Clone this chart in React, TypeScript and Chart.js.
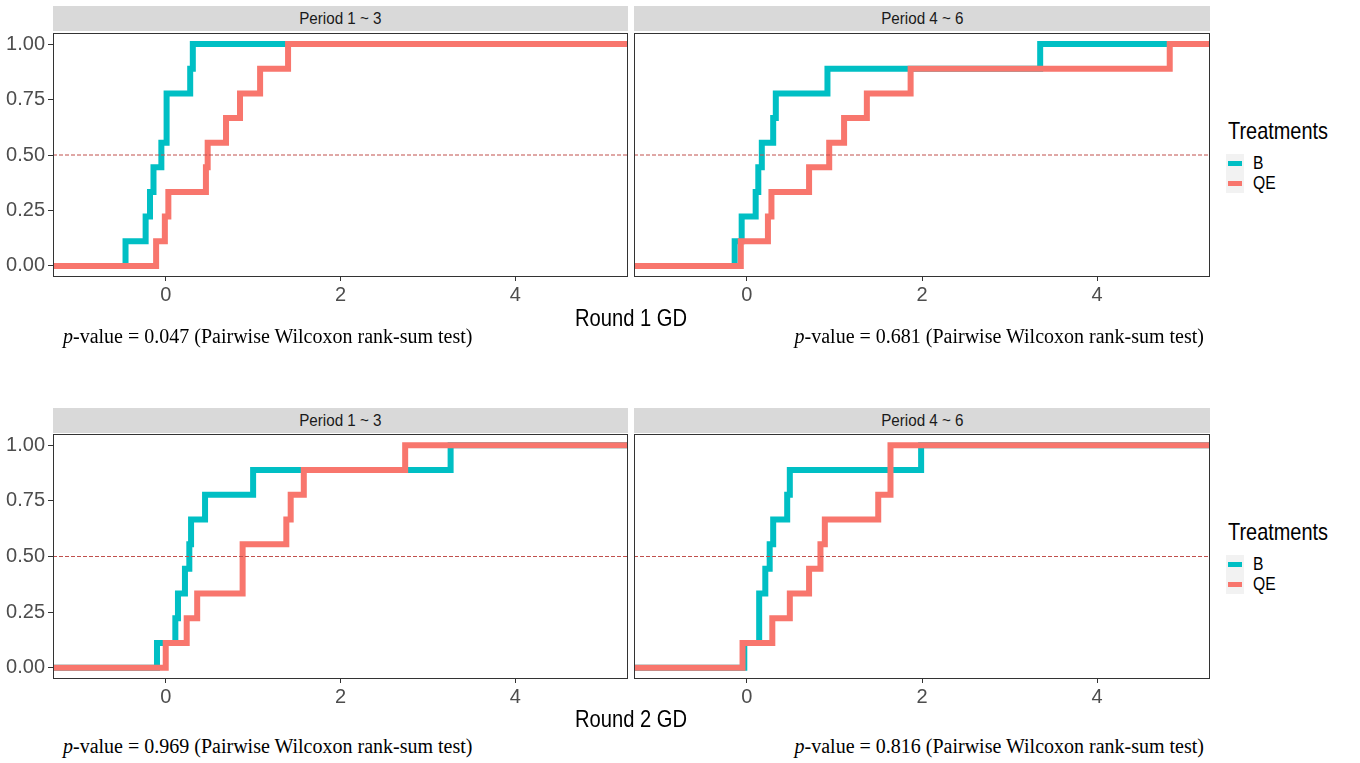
import React, { useEffect, useRef } from "react";
import { Chart, registerables } from "chart.js";
Chart.register(...registerables);

// ---------- data ----------
const xTickValues = [0, 2, 4];
const yTickValues = [0, 0.25, 0.5, 0.75, 1];
const xMin = -1.29;
const xMax = 5.29;
const yMin = -0.05;
const yMax = 1.05;
const refLevel = 0.5;

const seriesNames = ["B", "QE"];
const seriesColors = ["#00BFC4", "#F8766D"];
const facetLabels = ["Period 1 ~ 3", "Period 4 ~ 6"];
const roundTitles = ["Round 1 GD", "Round 2 GD"];
const legendTitle = "Treatments";
const pValuesRound1 = ["0.047", "0.681"];
const pValuesRound2 = ["0.969", "0.816"];
const testName = "(Pairwise Wilcoxon rank-sum test)";

// observed GD values (sorted) read from the ECDF steps
const round1Period13B = [-0.46, -0.23, -0.18, -0.14, -0.05, 0.01, 0.01, 0.28, 0.31];
const round1Period13QE = [-0.11, -0.01, 0.03, 0.46, 0.48, 0.69, 0.85, 1.08, 1.4];
const round1Period46B = [-0.14, -0.06, 0.1, 0.13, 0.17, 0.3, 0.33, 0.92, 3.35];
const round1Period46QE = [-0.07, 0.24, 0.28, 0.71, 0.94, 1.11, 1.37, 1.87, 4.83];
const round2Period13B = [-0.1, 0.11, 0.14, 0.22, 0.27, 0.29, 0.45, 1.0, 3.26];
const round2Period13QE = [0.0, 0.24, 0.36, 0.88, 0.88, 1.38, 1.43, 1.58, 2.74];
const round2Period46B = [-0.03, 0.14, 0.14, 0.21, 0.26, 0.3, 0.46, 0.49, 1.99];
const round2Period46QE = [-0.05, 0.29, 0.49, 0.71, 0.84, 0.89, 1.5, 1.64, 1.64];

// ---------- styling ----------
const SANS = "'Liberation Sans Narrow', 'Arial Narrow', 'Liberation Sans', Arial, sans-serif";
const SERIF = "'Liberation Serif', 'Times New Roman', serif";
const refColor = "#C0504D";

function ecdfPoints(obs: number[]) {
  const n = obs.length;
  const pts = [{ x: xMin, y: 0 }];
  obs.forEach((v, i) => pts.push({ x: v, y: (i + 1) / n }));
  pts.push({ x: xMax, y: 1 });
  return pts;
}

const borderPlugin = {
  id: "panelBorder",
  afterDatasetsDraw(chart: any) {
    const { ctx, chartArea } = chart;
    ctx.save();
    ctx.strokeStyle = "#333333";
    ctx.lineWidth = 1;
    ctx.strokeRect(
      Math.round(chartArea.left) + 0.5,
      Math.round(chartArea.top) + 0.5,
      Math.round(chartArea.right - chartArea.left) - 1,
      Math.round(chartArea.bottom - chartArea.top) - 1
    );
    ctx.restore();
  },
};

type PanelProps = {
  left: number;
  top: number;
  width: number;
  height: number;
  padding: { left: number; right: number; top: number; bottom: number };
  showY: boolean;
  b: number[];
  qe: number[];
};

function Panel({ left, top, width, height, padding, showY, b, qe }: PanelProps) {
  const ref = useRef<HTMLCanvasElement>(null);
  useEffect(() => {
    const chart = new Chart(ref.current as HTMLCanvasElement, {
      type: "line",
      data: {
        datasets: [
          {
            label: "ref",
            data: [
              { x: xMin, y: refLevel },
              { x: xMax, y: refLevel },
            ],
            borderColor: refColor,
            borderWidth: 1,
            borderDash: [4, 2],
            pointRadius: 0,
            order: 0,
          },
          {
            label: seriesNames[1],
            data: ecdfPoints(qe),
            stepped: true,
            borderColor: seriesColors[1],
            borderWidth: 6,
            pointRadius: 0,
            order: 1,
          },
          {
            label: seriesNames[0],
            data: ecdfPoints(b),
            stepped: true,
            borderColor: seriesColors[0],
            borderWidth: 6,
            pointRadius: 0,
            order: 2,
          },
        ],
      } as any,
      options: {
        responsive: false,
        animation: false,
        layout: { padding },
        plugins: {
          legend: { display: false },
          tooltip: { enabled: false },
          title: { display: false },
        },
        scales: {
          x: {
            type: "linear",
            min: xMin,
            max: xMax,
            afterBuildTicks: (s: any) => {
              s.ticks = xTickValues.map((v) => ({ value: v }));
            },
            afterFit: (s: any) => {
              s.height = 40;
            },
            grid: {
              drawOnChartArea: false,
              drawTicks: true,
              tickLength: 4,
              tickColor: "#333333",
              tickWidth: 1,
            },
            border: { display: false },
            ticks: {
              padding: 2,
              color: "#4D4D4D",
              font: { size: 20, family: SANS },
              maxRotation: 0,
              autoSkip: false,
              callback: (v: any) => String(v),
            },
          },
          y: {
            type: "linear",
            display: showY,
            min: yMin,
            max: yMax,
            afterBuildTicks: (s: any) => {
              s.ticks = yTickValues.map((v) => ({ value: v }));
            },
            afterFit: (s: any) => {
              s.width = showY ? 53 : 0;
            },
            grid: {
              drawOnChartArea: false,
              drawTicks: true,
              tickLength: 5,
              tickColor: "#333333",
              tickWidth: 1,
            },
            border: { display: false },
            ticks: {
              padding: 3,
              color: "#4D4D4D",
              font: { size: 20, family: SANS },
              autoSkip: false,
              callback: (v: any) => Number(v).toFixed(2),
            },
          },
        },
      } as any,
      plugins: [borderPlugin],
    });
    return () => chart.destroy();
  }, []);
  return (
    <canvas
      ref={ref}
      width={width}
      height={height}
      style={{ position: "absolute", left, top, width, height }}
    />
  );
}

function Strip({ left, top, width, text }: { left: number; top: number; width: number; text: string }) {
  return (
    <div
      style={{
        position: "absolute",
        left,
        top,
        width,
        height: 25,
        background: "#D9D9D9",
        color: "#1A1A1A",
        fontFamily: SANS,
        fontSize: 16,
        lineHeight: "25px",
        textAlign: "center",
        whiteSpace: "nowrap",
      }}
    >
      <span style={{ display: "inline-block", transform: "scaleX(0.95)" }}>{text}</span>
    </div>
  );
}

function Legend({ top }: { top: number }) {
  // top = y of title centre
  const keyCenters = [top + 32, top + 52];
  return (
    <>
      <div
        style={{
          position: "absolute",
          left: 1228,
          top: top - 12,
          height: 24,
          lineHeight: "24px",
          fontFamily: SANS,
          fontSize: 24,
          color: "#000",
          whiteSpace: "nowrap",
          transform: "scaleX(0.83)",
          transformOrigin: "left center",
        }}
      >
        {legendTitle}
      </div>
      <div
        style={{
          position: "absolute",
          left: 1226,
          top: keyCenters[0] - 9.5,
          width: 18,
          height: 39,
          background: "#F2F2F2",
        }}
      />
      {seriesNames.map((name, i) => (
        <React.Fragment key={name}>
          <div
            style={{
              position: "absolute",
              left: 1228,
              top: keyCenters[i] - 2.5,
              width: 14,
              height: 5,
              background: seriesColors[i],
            }}
          />
          <div
            style={{
              position: "absolute",
              left: 1253,
              top: keyCenters[i] - 9,
              height: 18,
              lineHeight: "18px",
              fontFamily: SANS,
              fontSize: 18,
              color: "#000",
              whiteSpace: "nowrap",
              transform: "scaleX(0.87)",
              transformOrigin: "left center",
            }}
          >
            {name}
          </div>
        </React.Fragment>
      ))}
    </>
  );
}

function PText({ left, right, top, value }: { left?: number; right?: number; top: number; value: string }) {
  const style: any = {
    position: "absolute",
    top,
    height: 20,
    lineHeight: "20px",
    fontFamily: SERIF,
    fontSize: 20,
    color: "#000",
    whiteSpace: "nowrap",
  };
  if (left !== undefined) style.left = left;
  if (right !== undefined) {
    style.left = 0;
    style.width = right;
    style.textAlign = "right";
  }
  return (
    <div style={style}>
      <i>p</i>-value = {value} {testName}
    </div>
  );
}

function Title({ top, text }: { top: number; text: string }) {
  return (
    <div
      style={{
        position: "absolute",
        left: 431,
        width: 400,
        top,
        height: 24,
        lineHeight: "24px",
        textAlign: "center",
        fontFamily: SANS,
        fontSize: 24,
        color: "#000",
        whiteSpace: "nowrap",
        transform: "scaleX(0.84)",
        transformOrigin: "center center",
      }}
    >
      {text}
    </div>
  );
}

export default function App() {
  const rows = [
    { stripTop: 6, canvasTop: 13, plotTop: 33, plotBottom: 277, titleTop: 306, pTop: 326, legendTop: 131, b: [round1Period13B, round1Period46B], qe: [round1Period13QE, round1Period46QE], p: pValuesRound1, title: roundTitles[0] },
    { stripTop: 408, canvasTop: 414, plotTop: 434, plotBottom: 679, titleTop: 707, pTop: 736, legendTop: 532, b: [round2Period13B, round2Period46B], qe: [round2Period13QE, round2Period46QE], p: pValuesRound2, title: roundTitles[1] },
  ];
  return (
    <div style={{ position: "absolute", left: 0, top: 0, width: 1360, height: 763, background: "#fff", overflow: "hidden" }}>
      {rows.map((r, ri) => {
        const h = r.plotBottom - r.canvasTop + 40;
        const padTop = r.plotTop - r.canvasTop;
        return (
          <React.Fragment key={ri}>
            <Strip left={53} top={r.stripTop} width={575} text={facetLabels[0]} />
            <Strip left={634} top={r.stripTop} width={576} text={facetLabels[1]} />
            <Panel
              left={0}
              top={r.canvasTop}
              width={632}
              height={h}
              padding={{ left: 0, right: 4, top: padTop, bottom: 0 }}
              showY={true}
              b={r.b[0]}
              qe={r.qe[0]}
            />
            <Panel
              left={633}
              top={r.canvasTop}
              width={582}
              height={h}
              padding={{ left: 1, right: 5, top: padTop, bottom: 0 }}
              showY={false}
              b={r.b[1]}
              qe={r.qe[1]}
            />
            <Title top={r.titleTop} text={r.title} />
            <PText left={63} top={r.pTop} value={r.p[0]} />
            <PText right={1204} top={r.pTop} value={r.p[1]} />
            <Legend top={r.legendTop} />
          </React.Fragment>
        );
      })}
    </div>
  );
}
